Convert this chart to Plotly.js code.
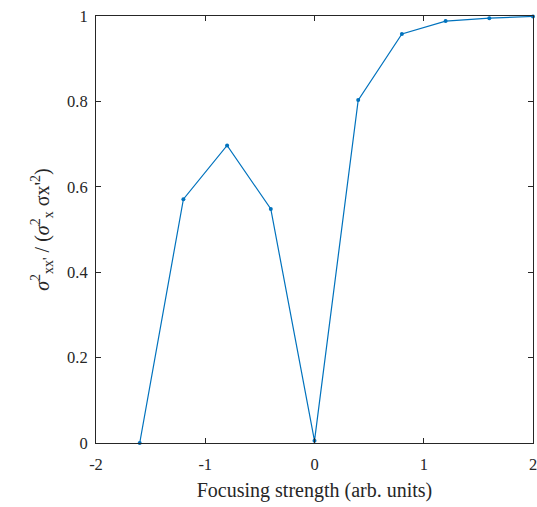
<!DOCTYPE html>
<html>
<head>
<meta charset="utf-8">
<script src="https://cdn.plot.ly/plotly-3.0.1.min.js"></script>
<style>html,body{margin:0;padding:0;background:#fff;}#chart{width:537px;height:507px;}</style>
</head>
<body>
<div id="chart"></div>
<script>
const focusing = [-1.6, -1.2, -0.8, -0.4, 0.0, 0.4, 0.8, 1.2, 1.6, 2.0];
const ratio = [0.0, 0.571, 0.697, 0.548, 0.005, 0.803, 0.958, 0.988, 0.995, 0.999];
const xTicks = [-2, -1, 0, 1, 2];
const yTicks = [0, 0.2, 0.4, 0.6, 0.8, 1];
const yTickLabels = ['0', '0.2', '0.4', '0.6', '0.8', '1'];

const serif = 'Liberation Serif, Times New Roman, serif';
const axisCommon = {
  showgrid: false,
  zeroline: false,
  showline: true,
  linecolor: '#262626',
  linewidth: 1,
  mirror: 'ticks',
  ticks: 'inside',
  ticklen: 5,
  tickcolor: '#262626',
  ticklabeloverflow: 'allow',
  tickfont: {family: serif, size: 16.5, color: '#262626'}
};

const trace = {
  x: focusing,
  y: ratio,
  type: 'scatter',
  mode: 'lines+markers',
  line: {color: '#0072BD', width: 1.2},
  marker: {color: '#0072BD', size: 4},
  cliponaxis: false
};

const layout = {
  width: 537,
  height: 507,
  margin: {l: 96, r: 4, t: 16, b: 64},
  paper_bgcolor: '#fff',
  plot_bgcolor: '#fff',
  showlegend: false,
  xaxis: Object.assign({}, axisCommon, {
    range: [-2, 2],
    tickvals: xTicks,
    ticktext: xTicks.map(String),
    ticklabelstandoff: 6,
    automargin: false,
    title: {text: 'Focusing strength (arb. units)', font: {family: serif, size: 20, color: '#262626'}, standoff: 10}
  }),
  yaxis: Object.assign({}, axisCommon, {
    range: [0, 1],
    tickvals: yTicks,
    ticktext: yTickLabels,
    ticklabelstandoff: 4,
    automargin: false,
    title: {text: "<i>σ</i><sup>2</sup><sub>xx'</sub> / (<i>σ</i><sup>2</sup><sub>x</sub> σx'<sup>2</sup>)", font: {family: serif, size: 20, color: '#262626'}, standoff: 12}
  })
};

Plotly.newPlot('chart', [trace], layout, {displayModeBar: false, staticPlot: true});
</script>
</body>
</html>
